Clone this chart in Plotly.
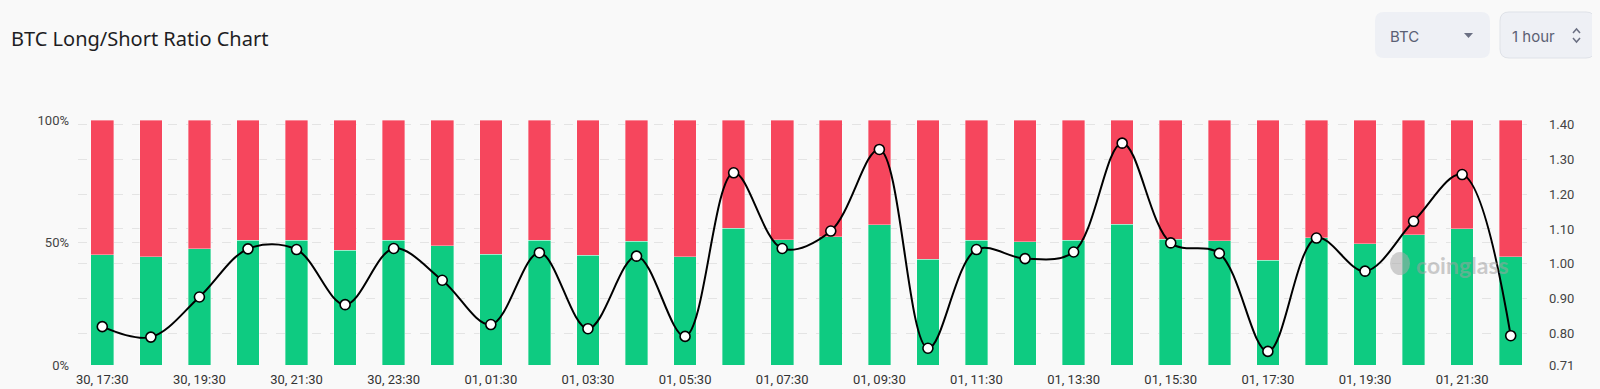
import plotly.graph_objects as go

# ---------------- data ----------------
categories = [
    "30, 17:30", "30, 18:30", "30, 19:30", "30, 20:30", "30, 21:30", "30, 22:30",
    "30, 23:30", "01, 00:30", "01, 01:30", "01, 02:30", "01, 03:30", "01, 04:30",
    "01, 05:30", "01, 06:30", "01, 07:30", "01, 08:30", "01, 09:30", "01, 10:30",
    "01, 11:30", "01, 12:30", "01, 13:30", "01, 14:30", "01, 15:30", "01, 16:30",
    "01, 17:30", "01, 18:30", "01, 19:30", "01, 20:30", "01, 21:30", "01, 22:30",
]
long_pct = [45.0, 44.2, 47.5, 51.0, 50.9, 46.8, 51.0, 48.7, 45.3, 50.9,
            44.9, 50.6, 44.2, 55.8, 51.2, 52.4, 57.2, 43.1, 51.0, 50.3,
            51.0, 57.4, 51.4, 50.7, 42.8, 52.0, 49.5, 53.1, 55.7, 44.2]
short_pct = [55.0, 55.8, 52.5, 49.0, 49.1, 53.2, 49.0, 51.3, 54.7, 49.1,
             55.1, 49.4, 55.8, 44.2, 48.8, 47.6, 42.8, 56.9, 49.0, 49.7,
             49.0, 42.6, 48.6, 49.3, 57.2, 48.0, 50.5, 46.9, 44.3, 55.8]
ratio = [0.820, 0.790, 0.905, 1.043, 1.041, 0.883, 1.044, 0.953, 0.826, 1.032,
         0.814, 1.022, 0.792, 1.261, 1.044, 1.094, 1.328, 0.758, 1.041, 1.015,
         1.034, 1.346, 1.060, 1.030, 0.749, 1.074, 0.979, 1.122, 1.256, 0.794]
x_tick_labels = categories[::2]
left_ticks = [0, 50, 100]
left_tick_text = ["0%", "50%", "100%"]
right_ticks = [0.71, 0.80, 0.90, 1.00, 1.10, 1.20, 1.30, 1.40]
right_tick_text = ["0.71", "0.80", "0.90", "1.00", "1.10", "1.20", "1.30", "1.40"]

# ---------------- layout geometry (window pixels) ----------------
OX, OY = 8, 8                      # page body margin offset
W, H = 1600 - OX, 389 - OY         # figure size
L, R, T, B = 78 - OX, 65, 120 - OY, 24
PW, PH = W - L - R, H - T - B

def px(x):
    return (x - OX - L) / PW

def py(y):
    return (H - B - (y - OY)) / PH

def rrect(x0, y0, x1, y1, r):
    def P(x, y):
        return f"{px(x):.5f},{py(y):.5f}"
    return (f"M {P(x0 + r, y0)} L {P(x1 - r, y0)} Q {P(x1, y0)} {P(x1, y0 + r)} "
            f"L {P(x1, y1 - r)} Q {P(x1, y1)} {P(x1 - r, y1)} L {P(x0 + r, y1)} "
            f"Q {P(x0, y1)} {P(x0, y1 - r)} L {P(x0, y0 + r)} Q {P(x0, y0)} {P(x0 + r, y0)} Z")

GREEN = "#0ECB81"
RED = "#F6465D"
BG = "#F9F9F9"

fig = go.Figure()
fig.add_trace(go.Bar(x=categories, y=long_pct,
                     marker=dict(color=GREEN, line=dict(width=0.6, color="rgba(255,255,255,0.6)")),
                     name="Long", yaxis="y", hoverinfo="skip"))
fig.add_trace(go.Bar(x=categories, y=short_pct,
                     marker=dict(color=RED, line=dict(width=0.6, color="rgba(255,255,255,0.6)")),
                     name="Short", yaxis="y", hoverinfo="skip"))
fig.add_trace(go.Scatter(x=categories, y=ratio, yaxis="y2", mode="lines+markers",
                         line=dict(color="#000000", width=2, shape="spline", smoothing=1.0),
                         marker=dict(size=10, color="#FFFFFF", line=dict(color="#000000", width=1.6)),
                         name="Ratio", cliponaxis=False))

shapes = [
    dict(type="path", xref="paper", yref="paper", path=rrect(1375, 12, 1490, 58, 9),
         fillcolor="#EEF0F5", line=dict(width=0), layer="above"),
    dict(type="path", xref="paper", yref="paper", path=rrect(1500, 12, 1595, 58, 9),
         fillcolor="#EEF0F5", line=dict(width=1, color="#DFE2E8"), layer="above"),
    dict(type="path", xref="paper", yref="paper",
         path=f"M {px(1464):.5f},{py(33):.5f} L {px(1473):.5f},{py(33):.5f} L {px(1468.5):.5f},{py(38):.5f} Z",
         fillcolor="#6B7083", line=dict(width=0), layer="above"),
    dict(type="path", xref="paper", yref="paper",
         path=f"M {px(1573):.5f},{py(33):.5f} L {px(1576.5):.5f},{py(29):.5f} L {px(1580):.5f},{py(33):.5f}",
         line=dict(width=1.5, color="#6B7083"), layer="above"),
    dict(type="path", xref="paper", yref="paper",
         path=f"M {px(1573):.5f},{py(38):.5f} L {px(1576.5):.5f},{py(42):.5f} L {px(1580):.5f},{py(38):.5f}",
         line=dict(width=1.5, color="#6B7083"), layer="above"),
    dict(type="circle", xref="paper", yref="paper",
         x0=px(1390), x1=px(1410), y0=py(275), y1=py(252),
         fillcolor="rgba(170,170,170,0.55)", line=dict(width=0), layer="above"),
]

annotations = [
    dict(text="BTC Long/Short Ratio Chart", x=px(9), y=py(38), xref="paper", yref="paper",
         xanchor="left", yanchor="middle", showarrow=False,
         font=dict(family="Noto Sans, Open Sans, sans-serif", size=20, color="#1E1E24")),
    dict(text="BTC", x=px(1388), y=py(36), xref="paper", yref="paper",
         xanchor="left", yanchor="middle", showarrow=False,
         font=dict(family="Inter, Roboto, sans-serif", size=15, color="#5B6074")),
    dict(text="1 hour", x=px(1510), y=py(36), xref="paper", yref="paper",
         xanchor="left", yanchor="middle", showarrow=False,
         font=dict(family="Inter, Roboto, sans-serif", size=15, color="#5B6074")),
    dict(text="<b>coinglass</b>", x=px(1414), y=py(265), xref="paper", yref="paper",
         xanchor="left", yanchor="middle", showarrow=False,
         font=dict(family="Lato, Roboto, sans-serif", size=23, color="rgba(160,160,160,0.55)")),
]

fig.update_layout(
    width=W, height=H,
    margin=dict(l=L, r=R, t=T, b=B, pad=0, autoexpand=False),
    paper_bgcolor=BG, plot_bgcolor=BG,
    barmode="stack", bargap=0.535,
    showlegend=False,
    font=dict(family="Roboto, sans-serif", size=13, color="#444"),
    xaxis=dict(type="category", categoryorder="array", categoryarray=categories,
               range=[-0.5, len(categories) - 0.5], autorange=False,
               tickmode="array", tickvals=x_tick_labels, ticktext=x_tick_labels,
               tickangle=0, showgrid=False, zeroline=False, showline=False, ticks="",
               automargin=False,
               tickfont=dict(family="Roboto, sans-serif", size=13, color="#333"), ticklabelstandoff=5),
    yaxis=dict(range=[0, 100], tickmode="array", tickvals=left_ticks, ticktext=left_tick_text,
               showgrid=True, gridcolor="#E4E4E4", griddash="dash", gridwidth=1,
               zeroline=False, showline=False, ticks="", ticklabelstandoff=8, automargin=False,
               tickfont=dict(family="Roboto, sans-serif", size=13, color="#444")),
    yaxis2=dict(range=[0.71, 1.4124], overlaying="y", side="right",
                tickmode="array", tickvals=right_ticks, ticktext=right_tick_text,
                showgrid=True, gridcolor="#E4E4E4", griddash="dash", gridwidth=1,
                zeroline=False, showline=False, ticks="", ticklabelstandoff=13, automargin=False,
                tickfont=dict(family="Roboto, sans-serif", size=13, color="#444")),
    shapes=shapes, annotations=annotations,
)

fig.write_html("out.html", post_script="document.body.style.background='#F9F9F9';")
